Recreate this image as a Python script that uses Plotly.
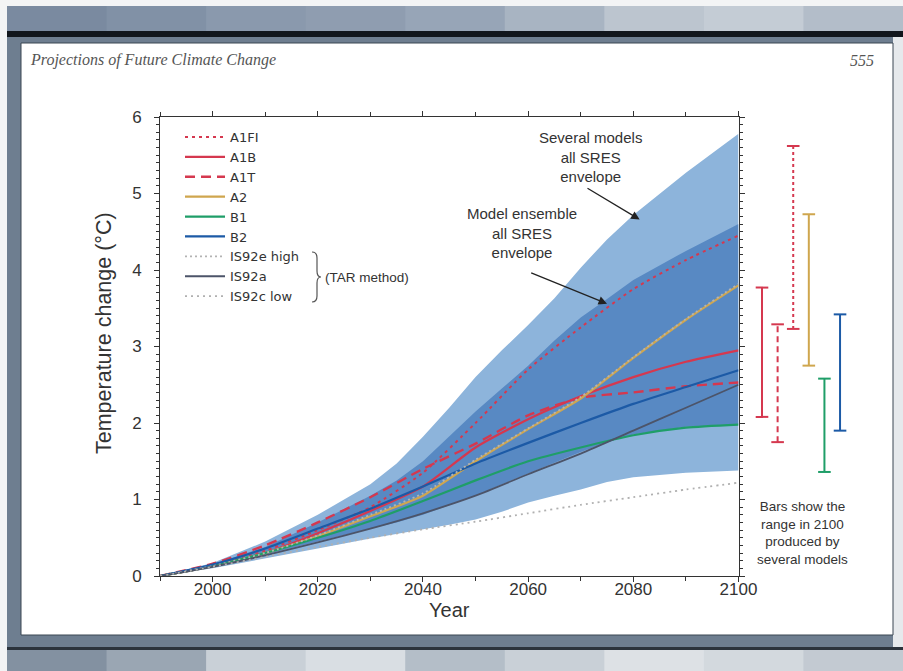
import plotly.graph_objects as go

# ---------------- data ----------------
years = [1990, 2000, 2010, 2020, 2030, 2040, 2050, 2060, 2070, 2080, 2090, 2100]
a1fi = [0, 0.14, 0.33, 0.6, 0.9, 1.35, 2.0, 2.7, 3.25, 3.75, 4.13, 4.45]
a1b = [0, 0.13, 0.3, 0.56, 0.85, 1.17, 1.68, 2.05, 2.35, 2.6, 2.8, 2.95]
a1t = [0, 0.16, 0.4, 0.7, 1.03, 1.4, 1.73, 2.1, 2.33, 2.4, 2.48, 2.53]
a2 = [0, 0.13, 0.3, 0.52, 0.78, 1.05, 1.5, 1.92, 2.32, 2.85, 3.35, 3.8]
b1 = [0, 0.13, 0.3, 0.5, 0.72, 0.98, 1.25, 1.5, 1.68, 1.84, 1.94, 1.98]
b2 = [0, 0.15, 0.36, 0.62, 0.88, 1.17, 1.47, 1.74, 2.0, 2.25, 2.47, 2.69]
is92e = [0, 0.13, 0.3, 0.53, 0.8, 1.08, 1.52, 1.93, 2.34, 2.86, 3.36, 3.82]
is92a = [0, 0.12, 0.27, 0.44, 0.62, 0.82, 1.05, 1.33, 1.6, 1.9, 2.2, 2.5]
is92c = [0, 0.12, 0.25, 0.38, 0.5, 0.61, 0.71, 0.82, 0.93, 1.03, 1.13, 1.22]

env_years = [1990, 2000, 2010, 2020, 2030, 2035, 2040, 2045, 2050, 2055, 2060, 2065, 2070, 2075, 2080, 2090, 2100]
light_upper = [0, 0.17, 0.45, 0.8, 1.2, 1.47, 1.82, 2.2, 2.6, 2.95, 3.28, 3.63, 4.03, 4.4, 4.72, 5.27, 5.78]
light_lower = [0, 0.1, 0.23, 0.36, 0.49, 0.55, 0.61, 0.67, 0.74, 0.84, 0.96, 1.05, 1.13, 1.23, 1.29, 1.35, 1.38]
dark_upper = [0, 0.15, 0.38, 0.7, 1.05, 1.25, 1.5, 1.83, 2.15, 2.45, 2.75, 3.08, 3.38, 3.62, 3.87, 4.25, 4.6]
dark_lower = [0, 0.13, 0.28, 0.45, 0.62, 0.7, 0.8, 0.92, 1.05, 1.2, 1.35, 1.48, 1.62, 1.75, 1.85, 1.95, 1.98]

bar_names = ["A1B", "A1T", "A1FI", "A2", "B1", "B2"]
bar_low = [2.08, 1.75, 3.23, 2.75, 1.36, 1.90]
bar_high = [3.77, 3.29, 5.62, 4.73, 2.58, 3.42]
bar_pos = [1, 2, 3, 4, 5, 6]

x_ticks = [2000, 2020, 2040, 2060, 2080, 2100]
y_ticks = [0, 1, 2, 3, 4, 5, 6]

# ---------------- styling ----------------
RED = "#d5384f"
TAN = "#cfa64e"
GREEN = "#1f9e68"
BLUE = "#1c5aa6"
ISE = "#b3b3b3"
ISA = "#4c5469"
ISC = "#b0b0b0"
LIGHT_ENV = "#8db4db"
DARK_ENV = "#5889c3"
AX = "#333333"

W, H = 903, 671
ML, MR, MT, MB = 160, 33, 117, 95
PW = W - ML - MR
PH = H - MT - MB


def px(x):
    return (x - ML) / PW


def py(y):
    return (H - MB - y) / PH


XDOM = px(738.5)

fig = go.Figure()

# envelopes
fig.add_trace(go.Scatter(x=env_years + env_years[::-1], y=light_upper + light_lower[::-1],
                         fill="toself", fillcolor=LIGHT_ENV, mode="lines", line=dict(width=0),
                         showlegend=False, hoverinfo="skip"))
fig.add_trace(go.Scatter(x=env_years + env_years[::-1], y=dark_upper + dark_lower[::-1],
                         fill="toself", fillcolor=DARK_ENV, mode="lines", line=dict(width=0),
                         showlegend=False, hoverinfo="skip"))

series = [
    ("A1FI", a1fi, RED, "3px,4px", 2),
    ("A1B", a1b, RED, "solid", 2.2),
    ("A1T", a1t, RED, "10px,6px", 2.4),
    ("A2", a2, TAN, "solid", 2.2),
    ("B1", b1, GREEN, "solid", 2.2),
    ("B2", b2, BLUE, "solid", 2.2),
    ("IS92e high", is92e, ISE, "2px,3px", 1.8),
    ("IS92a", is92a, ISA, "solid", 1.8),
    ("IS92c low", is92c, ISC, "2px,4px", 1.8),
]
for name, vals, col, dash, w in series:
    fig.add_trace(go.Scatter(x=years, y=vals, name=name, mode="lines",
                             line=dict(color=col, dash=dash, width=w, shape="spline", smoothing=0.6)))

bar_style = {"A1B": (RED, "solid"), "A1T": (RED, "6px,4px"), "A1FI": (RED, "3px,3px"),
             "A2": (TAN, "solid"), "B1": (GREEN, "solid"), "B2": (BLUE, "solid")}
for nm, p, lo, hi in zip(bar_names, bar_pos, bar_low, bar_high):
    col, dash = bar_style[nm]
    fig.add_trace(go.Scatter(x=[p, p], y=[lo, hi], xaxis="x2", yaxis="y2", mode="lines+markers",
                             line=dict(color=col, width=2, dash=dash),
                             marker=dict(symbol="line-ew", size=9, line=dict(width=2, color=col)),
                             showlegend=False, hoverinfo="skip"))

# ---------------- frame shapes ----------------
shapes = []


def rect(x0, y0, x1, y1, color, line=None):
    d = dict(type="rect", xref="paper", yref="paper", x0=px(x0), x1=px(x1), y0=py(y1), y1=py(y0),
             fillcolor=color, layer="below", line=dict(width=0))
    if line:
        d["line"] = dict(width=1, color=line)
    shapes.append(d)


top_cols = ["#7a8aa0", "#8191a6", "#8a99ad", "#8f9db0", "#97a5b7", "#a8b4c2", "#bcc5cf", "#c4ccd5", "#b3bdc9"]
n = len(top_cols)
for i, c in enumerate(top_cols):
    rect(7 + i * (896 / n), 6, 7 + (i + 1) * (896 / n) + 1, 31, c)
rect(7, 31, 903, 37, "#11161c")
rect(7, 37, 893, 649, "#6e7e90")
rect(893, 37, 903, 649, "#e6e9ec")
rect(21, 43, 893, 635, "#ffffff", line="#3b4652")
rect(7, 647, 903, 650, "#2b333c")
bot_cols = ["#8391a1", "#9aa6b3", "#c9d0d7", "#d9dee3", "#b4bec8", "#c9d0d7", "#dde1e5", "#d3d9de", "#c3cad2"]
n = len(bot_cols)
for i, c in enumerate(bot_cols):
    rect(7 + i * (896 / n), 650, 7 + (i + 1) * (896 / n) + 1, 671, c)

# brace for TAR method
path = "M{},{} Q{},{} {},{} L{},{} Q{},{} {},{} Q{},{} {},{} L{},{} Q{},{} {},{}".format(
    px(312), py(252), px(317), py(252), px(317), py(258), px(317), py(271),
    px(317), py(277), px(321), py(277), px(317), py(277), px(317), py(283),
    px(317), py(296), px(317), py(302), px(312), py(302))
shapes.append(dict(type="path", path=path, xref="paper", yref="paper", line=dict(color="#555", width=1.2)))

# ---------------- annotations ----------------
TXT = "#333333"
ann = [
    dict(x=px(28), y=py(60), xref="paper", yref="paper", xanchor="left", yanchor="middle",
         text="<i>Projections of Future Climate Change</i>", showarrow=False,
         font=dict(family="Liberation Serif", size=16, color="#555555")),
    dict(x=px(876), y=py(60), xref="paper", yref="paper", xanchor="right", yanchor="middle",
         text="<i>555</i>", showarrow=False, font=dict(family="Liberation Serif", size=16, color="#555555")),
    dict(x=px(590), y=py(157), xref="paper", yref="paper", xanchor="center", yanchor="middle",
         text="Several models<br>all SRES<br>envelope",
         showarrow=False, align="center", font=dict(family="Liberation Sans", size=15, color=TXT)),
    dict(x=px(522), y=py(233), xref="paper", yref="paper", xanchor="center", yanchor="middle",
         text="Model ensemble<br>all SRES<br>envelope",
         showarrow=False, align="center", font=dict(family="Liberation Sans", size=15, color=TXT)),
    dict(x=2081.2, y=4.66, ax=2071.0, ay=5.08, axref="x", ayref="y", xref="x", yref="y", text="",
         showarrow=True, arrowhead=2, arrowsize=1.3, arrowwidth=1.3, arrowcolor="#222"),
    dict(x=2075.0, y=3.56, ax=2060.3, ay=3.97, axref="x", ayref="y", xref="x", yref="y", text="",
         showarrow=True, arrowhead=2, arrowsize=1.3, arrowwidth=1.3, arrowcolor="#222"),
    dict(x=px(323), y=py(277), xref="paper", yref="paper", xanchor="left", yanchor="middle",
         text="(TAR method)", showarrow=False, font=dict(family="Liberation Sans", size=13.5, color=TXT)),
    dict(x=px(802), y=py(533), xref="paper", yref="paper", xanchor="center", yanchor="middle",
         text="Bars show the<br>range in 2100<br>produced by<br>several models", showarrow=False,
         align="center", font=dict(family="Liberation Sans", size=13.5, color=TXT)),
    dict(x=px(104), y=py(333), xref="paper", yref="paper", xanchor="center", yanchor="middle",
         text="Temperature change (°C)", textangle=-90, showarrow=False,
         font=dict(family="Liberation Sans", size=21.5, color=TXT)),
]

tickfont = dict(family="Liberation Sans", size=17, color=TXT)

fig.update_layout(
    width=W, height=H,
    margin=dict(l=ML, r=MR, t=MT, b=MB),
    paper_bgcolor="#f3f4f5",
    plot_bgcolor="rgba(0,0,0,0)",
    shapes=shapes,
    annotations=ann,
    showlegend=True,
    legend=dict(x=px(180), y=py(122), xanchor="left", yanchor="top", bgcolor="rgba(0,0,0,0)",
                itemwidth=40,
                font=dict(family="DejaVu Sans", size=13, color=TXT), traceorder="normal"),
    xaxis=dict(domain=[0, XDOM], range=[1990, 2100], tick0=2000, dtick=20, ticks="outside", ticklen=5,
               tickcolor=AX, showline=True, linecolor=AX, linewidth=1, mirror="ticks", showgrid=False,
               zeroline=False, tickfont=tickfont, ticklabelstandoff=-7,
               minor=dict(tick0=1990, dtick=10, ticks="outside", ticklen=4, tickcolor=AX),
               title=dict(text="Year", font=dict(family="Liberation Sans", size=20, color=TXT), standoff=2)),
    yaxis=dict(domain=[0, 1], range=[0, 6], tickvals=y_ticks, ticks="outside", ticklen=5, tickcolor=AX,
               showline=True, linecolor=AX, linewidth=1, mirror="ticks", showgrid=False, zeroline=False,
               tickfont=tickfont, ticklabelstandoff=9,
               minor=dict(dtick=0.1, ticks="outside", ticklen=3, tickcolor=AX)),
    xaxis2=dict(domain=[XDOM, 1], range=[-0.506, 7.92], visible=False),
    yaxis2=dict(domain=[0, 1], range=[0, 6], anchor="x2", visible=False),
)

fig.write_html("out.html", config={"displayModeBar": False},
               post_script="document.body.style.margin='0';document.body.style.overflow='hidden';")
